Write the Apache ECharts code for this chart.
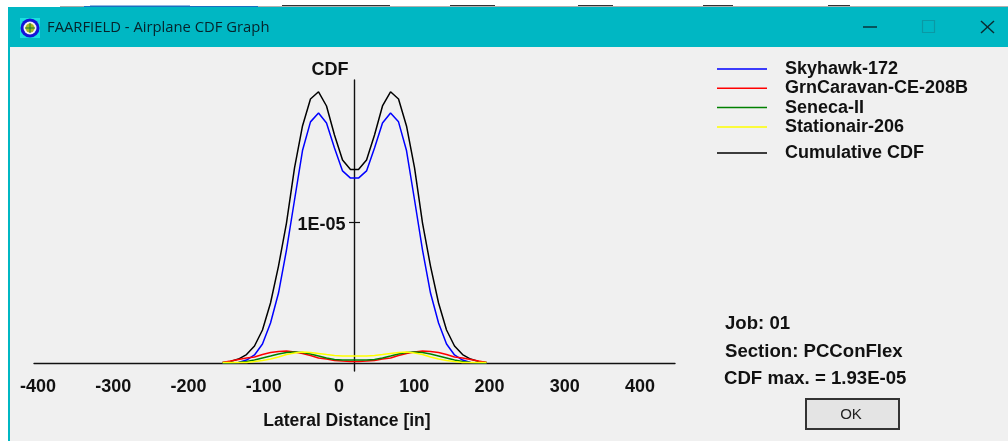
<!DOCTYPE html>
<html>
<head>
<meta charset="utf-8">
<style>html,body{margin:0;padding:0;background:#f0f0f0}#c{width:1008px;height:441px}</style>
<script src="https://cdn.jsdelivr.net/npm/echarts@6/dist/echarts.min.js"></script>
</head>
<body>
<div id="c"></div>
<script>
const lateral = [-154.8,-144.2,-133.6,-122.9,-112.3,-101.7,-91,-80.4,-69.8,-59.1,-48.5,-37.9,-27.2,-16.6,-6,4.7,15.3,
  25.9,36.6,47.2,57.8,68.5,79.1,89.7,100.4,111,121.6,132.3,142.9,153.5,164.2,174.8,185.4,196.1];
const skyhawk = [0,0,.004e-5,.021e-5,.057e-5,.135e-5,.285e-5,.498e-5,.804e-5,1.16e-5,1.512e-5,1.716e-5,1.779e-5,1.708e-5,1.53e-5,1.367e-5,1.316e-5,
  1.316e-5,1.367e-5,1.53e-5,1.708e-5,1.779e-5,1.716e-5,1.512e-5,1.16e-5,.804e-5,.498e-5,.285e-5,.135e-5,.057e-5,.021e-5,.004e-5,0,0];
const caravan = [.004e-5,.014e-5,.025e-5,.036e-5,.043e-5,.06e-5,.075e-5,.082e-5,.085e-5,.078e-5,.068e-5,.053e-5,.036e-5,.028e-5,.018e-5,.014e-5,.011e-5,
  .011e-5,.014e-5,.018e-5,.028e-5,.036e-5,.053e-5,.068e-5,.078e-5,.085e-5,.082e-5,.075e-5,.06e-5,.043e-5,.036e-5,.025e-5,.014e-5,.004e-5];
const seneca = [0,0,.004e-5,.011e-5,.021e-5,.036e-5,.05e-5,.064e-5,.075e-5,.078e-5,.075e-5,.064e-5,.05e-5,.036e-5,.025e-5,.021e-5,.021e-5,
  .021e-5,.021e-5,.025e-5,.036e-5,.05e-5,.064e-5,.075e-5,.078e-5,.075e-5,.064e-5,.05e-5,.036e-5,.021e-5,.011e-5,.004e-5,0,0];
const stationair = [.004e-5,.004e-5,.004e-5,.004e-5,.011e-5,.018e-5,.028e-5,.043e-5,.06e-5,.071e-5,.078e-5,.075e-5,.068e-5,.06e-5,.053e-5,.05e-5,.05e-5,
  .05e-5,.05e-5,.053e-5,.06e-5,.068e-5,.075e-5,.078e-5,.071e-5,.06e-5,.043e-5,.028e-5,.018e-5,.011e-5,.004e-5,.004e-5,.004e-5,.004e-5];
const cumulative = [.004e-5,.011e-5,.028e-5,.06e-5,.121e-5,.235e-5,.427e-5,.69e-5,.996e-5,1.388e-5,1.687e-5,1.879e-5,1.93e-5,1.829e-5,1.623e-5,1.445e-5,1.377e-5,
  1.377e-5,1.445e-5,1.623e-5,1.829e-5,1.93e-5,1.879e-5,1.687e-5,1.388e-5,.996e-5,.69e-5,.427e-5,.235e-5,.121e-5,.06e-5,.028e-5,.011e-5,.004e-5];
const xTicks = [-400,-300,-200,-100,0,100,200,300,400];
const yTicks = [1e-5];
const yTickLabels = ['1E-05'];
const infoLines = ['Job: 01','Section: PCConFlex','CDF max. = 1.93E-05'];

const FONT = '"Liberation Sans", Arial, sans-serif';
const TXT = {fontFamily: FONT, fontWeight: 'bold', fontSize: 18, color: '#111'};
const pairs = a => a.map((v,i) => [lateral[i], v]);
const line = (name, data, color, z) => ({
  name, type: 'line', data: pairs(data), symbol: 'none', silent: true, z,
  lineStyle: {color, width: 1.5}, itemStyle: {color}
});
const rect = (x,y,w,h,fill,z=-5) => ({type:'rect', shape:{x,y,width:w,height:h}, style:{fill}, z, silent:true});
const txt = (x,y,text,extra={}) => ({type:'text', x, y, silent:true, z:5, style:Object.assign({
  text, fontFamily:FONT, fontWeight:'bold', fontSize:18.6, fill:'#111', verticalAlign:'middle'}, extra)});
const seg = (x1,y1,x2,y2,stroke,lineWidth=1.3) => ({type:'line', shape:{x1,y1,x2,y2}, style:{stroke,lineWidth}, silent:true, z:5});

const graphic = [
  rect(0,0,1008,7,'#ffffff'),
  rect(60,6,24,1,'#a8a8a8'), rect(84,6,174,1,'#1a6fc0'), rect(258,6,750,1,'#b0b0b0'),
  rect(90,5,100,1,'#8fb8e0'),
  rect(282,5,108,1,'#333'), rect(450,5,45,1,'#333'), rect(578,5,35,1,'#333'), rect(703,5,30,1,'#333'), rect(828,5,22,1,'#333'),
  rect(0,7,8,434,'#ffffff'),
  rect(8,7,1000,40,'#00b7c3'),
  rect(8,47,2,394,'#00b7c3'),
  rect(20,18,20,20,'#19e0e0',1),
  {type:'circle', shape:{cx:30,cy:28,r:9.5}, style:{fill:'#1414d8'}, silent:true, z:2},
  {type:'circle', shape:{cx:30,cy:28,r:6.5}, style:{fill:'#f4f4f0'}, silent:true, z:3},
  {type:'circle', shape:{cx:30,cy:28,r:4.5}, style:{fill:'#a8b820'}, silent:true, z:4},
  seg(30,23,30,33,'#1a7a30',1), seg(25,28,35,28,'#1a7a30',1),
  txt(47,28,'FAARFIELD - Airplane CDF Graph',{fontFamily:'"Open Sans", "Noto Sans", sans-serif',fontWeight:'normal',fontSize:14.8,fill:'#06222a'}),
  seg(863,27,877,27,'#0a2a30',1.4),
  {type:'rect', shape:{x:922.5,y:20.5,width:12,height:12}, style:{fill:'none',stroke:'#0a99a5',lineWidth:1.2}, silent:true, z:5},
  seg(981,21,994,33,'#0a2a30',1.4), seg(994,21,981,33,'#0a2a30',1.4),
  txt(725,323.5,infoLines[0]), txt(725,351.5,infoLines[1]), txt(724,378.5,infoLines[2]),
  rect(805,398,95,32,'#333333',1), rect(807,400,91,28,'#e4e4e4',2),
  txt(851,415,'OK',{fontWeight:'normal',fontSize:15,align:'center',fill:'#222'})
];

const legendBase = {orient:'vertical', itemWidth:50, itemHeight:1.5, left:717, icon:'rect', textStyle:Object.assign({},TXT,{padding:[0,0,0,13]}), selectedMode:false, padding:0};
const chart = echarts.init(document.getElementById('c'));
chart.setOption({
  animation:false,
  backgroundColor:'#f0f0f0',
  graphic,
  legend:[
    Object.assign({},legendBase,{top:60,itemGap:1.3,data:['Skyhawk-172','GrnCaravan-CE-208B','Seneca-II','Stationair-206']}),
    Object.assign({},legendBase,{top:144,data:['Cumulative CDF']})
  ],
  grid:{left:34,top:80,width:641,height:291,containLabel:false,outerBoundsMode:'none'},
  xAxis:{
    type:'value', min:-405.3, max:446.5,
    name:'Lateral Distance [in]', nameLocation:'middle', nameGap:41,
    nameTextStyle:Object.assign({},TXT,{fontSize:17.5,padding:[0,15,0,0]}),
    axisLine:{onZero:true,lineStyle:{color:'#111',width:1.4}},
    axisTick:{show:false}, splitLine:{show:false},
    axisLabel:{customValues:xTicks, margin:7, showMinLabel:true, showMaxLabel:true, hideOverlap:false, fontFamily:FONT, fontWeight:'bold', fontSize:18, color:'#111'}
  },
  yAxis:[{
    type:'value', min:-5.7e-7, max:2.014e-5, offset:-320.5,
    name:'CDF', nameLocation:'end', nameGap:1,
    nameTextStyle:Object.assign({},TXT,{padding:[0,49,0,0]}),
    axisLine:{show:true,onZero:false,lineStyle:{color:'#111',width:1.4}},
    axisTick:{show:true,length:5.5,customValues:yTicks,lineStyle:{color:'#111',width:1.2}},
    splitLine:{show:false},
    axisLabel:{customValues:yTicks, margin:9, verticalAlign:'top', lineHeight:5, formatter:(v)=>yTickLabels[0], fontFamily:FONT, fontWeight:'bold', fontSize:18, color:'#111'}
  },{
    type:'value', min:-5.7e-7, max:2.014e-5, position:'left', offset:-320.5,
    axisLine:{show:false,onZero:false},
    axisTick:{show:true,inside:true,length:5.5,customValues:yTicks,lineStyle:{color:'#111',width:1.2}},
    axisLabel:{show:false}, splitLine:{show:false}
  }],
  series:[
    line('Cumulative CDF',cumulative,'#000000',2),
    line('Skyhawk-172',skyhawk,'#0000ff',3),
    line('GrnCaravan-CE-208B',caravan,'#ff0000',4),
    line('Seneca-II',seneca,'#008000',5),
    line('Stationair-206',stationair,'#ffff00',6)
  ]
});
</script>
</body>
</html>
